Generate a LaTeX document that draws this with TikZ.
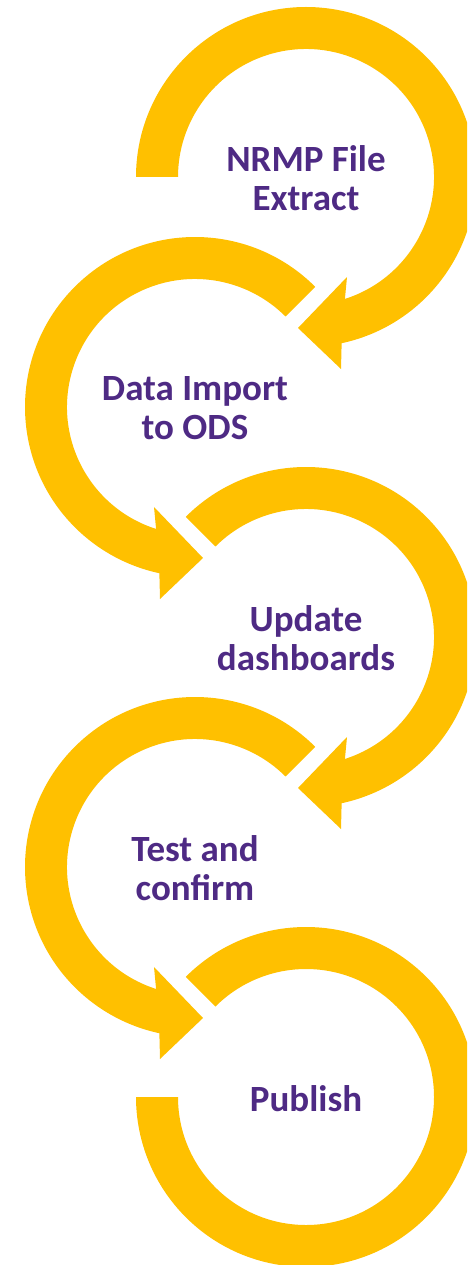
\documentclass[tikz,border=0pt]{standalone}
\usepackage{fontspec}
\setmainfont{Carlito}
\definecolor{gold}{HTML}{FFC000}
\definecolor{nupurple}{HTML}{4E2A84}
\tikzset{
  steplabel/.style={text=nupurple, font=\bfseries\fontsize{37}{39}\selectfont, align=center, inner sep=0pt},
  pics/ringarrow/.style={code={
    \fill[gold] (#1:170) arc[start angle=#1, end angle=-77.9, radius=170]
      -- (35,-192) -- (-8,-151) -- (41,-100)
      -- (-72.3:128) arc[start angle=-72.3, end angle=#1, radius=128] -- cycle;
  }}
}
\begin{document}
\begin{tikzpicture}[x=1pt,y=1pt]
\useasboundingbox (0,0) rectangle (467,-1265);
\clip (0,0) rectangle (467,-1265);
\pic at (306,-177) {ringarrow=180};
\pic[xscale=-1] at (195,-407) {ringarrow=135};
\pic at (306,-637) {ringarrow=135};
\pic[xscale=-1] at (195,-867) {ringarrow=135};
\fill[gold, shift={(306,-1097)}] (135:170) arc[start angle=135, end angle=-180, radius=170]
  -- (-180:128) arc[start angle=-180, end angle=135, radius=128] -- cycle;
\node[steplabel] (s1) at (306,-178) {NRMP File\\Extract};
\node[steplabel] (s2) at (195,-408) {Data Import\\to ODS};
\node[steplabel] (s3) at (306,-638) {Update\\dashboards};
\node[steplabel] (s4) at (195,-868) {Test and\\confirm};
\node[steplabel] (s5) at (306,-1099) {Publish};
\end{tikzpicture}
\end{document}
